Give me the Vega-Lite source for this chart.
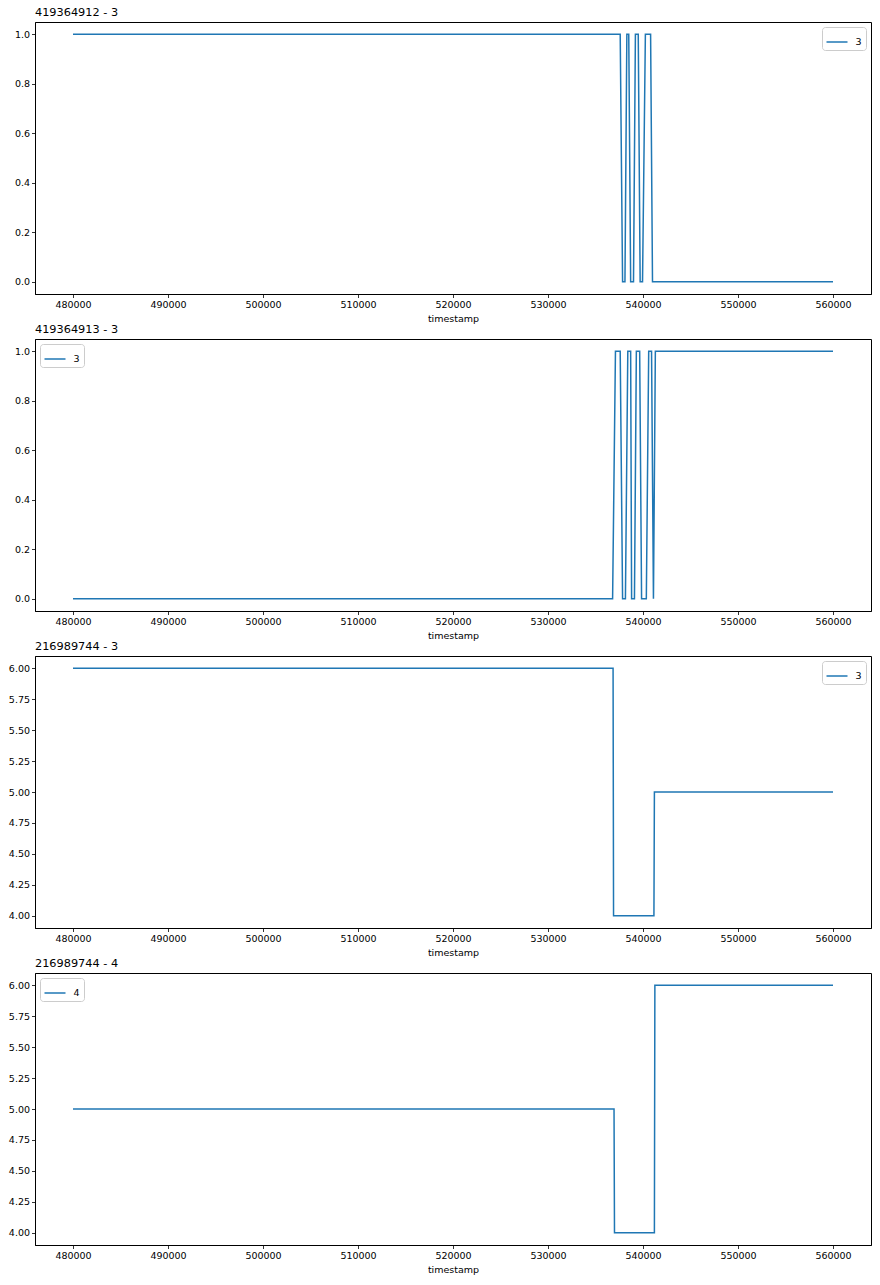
{
  "$schema": "https://vega.github.io/schema/vega-lite/v6.json",
  "background": "white",
  "padding": {"left": 7, "top": 6, "right": 4, "bottom": 6},
  "config": {
    "font": "DejaVu Sans",
    "view": {"stroke": "black", "strokeWidth": 1},
    "axis": {
      "labelFont": "DejaVu Sans", "labelFontSize": 9.5, "labelColor": "black",
      "titleFont": "DejaVu Sans", "titleFontSize": 9.5, "titleColor": "black", "titleFontWeight": "normal",
      "tickColor": "black", "tickSize": 3.5, "tickWidth": 0.8, "domainColor": "black", "domainWidth": 1,
      "grid": false, "labelPadding": 2
    },
    "title": {"font": "DejaVu Sans", "fontSize": 11.3, "fontWeight": "normal", "color": "black", "anchor": "start", "frame": "group", "offset": 4},
    "legend": {
      "title": null, "labelFont": "DejaVu Sans", "labelFontSize": 9.5, "labelColor": "black",
      "strokeColor": "#cccccc", "fillColor": "white", "cornerRadius": 3, "padding": 3.5,
      "symbolType": "stroke", "symbolSize": 441, "symbolStrokeWidth": 1.5, "labelOffset": 7, "offset": 5
    }
  },
  "data": {"values": [
    {"p": 1, "t": 480000, "v": 1, "s": "3"},
    {"p": 1, "t": 537600, "v": 1, "s": "3"},
    {"p": 1, "t": 537850, "v": 0, "s": "3"},
    {"p": 1, "t": 538100, "v": 0, "s": "3"},
    {"p": 1, "t": 538300, "v": 1, "s": "3"},
    {"p": 1, "t": 538500, "v": 1, "s": "3"},
    {"p": 1, "t": 538700, "v": 0, "s": "3"},
    {"p": 1, "t": 539000, "v": 0, "s": "3"},
    {"p": 1, "t": 539200, "v": 1, "s": "3"},
    {"p": 1, "t": 539500, "v": 1, "s": "3"},
    {"p": 1, "t": 539700, "v": 0, "s": "3"},
    {"p": 1, "t": 539950, "v": 0, "s": "3"},
    {"p": 1, "t": 540250, "v": 1, "s": "3"},
    {"p": 1, "t": 540800, "v": 1, "s": "3"},
    {"p": 1, "t": 541000, "v": 0, "s": "3"},
    {"p": 1, "t": 560000, "v": 0, "s": "3"},
    {"p": 2, "t": 480000, "v": 0, "s": "3"},
    {"p": 2, "t": 536800, "v": 0, "s": "3"},
    {"p": 2, "t": 537100, "v": 1, "s": "3"},
    {"p": 2, "t": 537600, "v": 1, "s": "3"},
    {"p": 2, "t": 537850, "v": 0, "s": "3"},
    {"p": 2, "t": 538150, "v": 0, "s": "3"},
    {"p": 2, "t": 538400, "v": 1, "s": "3"},
    {"p": 2, "t": 538700, "v": 1, "s": "3"},
    {"p": 2, "t": 538800, "v": 0, "s": "3"},
    {"p": 2, "t": 539100, "v": 0, "s": "3"},
    {"p": 2, "t": 539300, "v": 1, "s": "3"},
    {"p": 2, "t": 539650, "v": 1, "s": "3"},
    {"p": 2, "t": 539850, "v": 0, "s": "3"},
    {"p": 2, "t": 540350, "v": 0, "s": "3"},
    {"p": 2, "t": 540600, "v": 1, "s": "3"},
    {"p": 2, "t": 540900, "v": 1, "s": "3"},
    {"p": 2, "t": 541100, "v": 0, "s": "3"},
    {"p": 2, "t": 541300, "v": 1, "s": "3"},
    {"p": 2, "t": 560000, "v": 1, "s": "3"},
    {"p": 3, "t": 480000, "v": 6, "s": "3"},
    {"p": 3, "t": 536850, "v": 6, "s": "3"},
    {"p": 3, "t": 536900, "v": 4, "s": "3"},
    {"p": 3, "t": 541150, "v": 4, "s": "3"},
    {"p": 3, "t": 541200, "v": 5, "s": "3"},
    {"p": 3, "t": 560000, "v": 5, "s": "3"},
    {"p": 4, "t": 480000, "v": 5, "s": "4"},
    {"p": 4, "t": 536950, "v": 5, "s": "4"},
    {"p": 4, "t": 537000, "v": 4, "s": "4"},
    {"p": 4, "t": 541200, "v": 4, "s": "4"},
    {"p": 4, "t": 541250, "v": 6, "s": "4"},
    {"p": 4, "t": 560000, "v": 6, "s": "4"}
  ]},
  "bounds": "flush",
  "spacing": 45,
  "resolve": {"scale": {"color": "independent"}, "legend": {"color": "independent"}},
  "vconcat": [
    {
      "title": "419364912 - 3",
      "width": 836, "height": 272,
      "transform": [{"filter": "datum.p === 1"}],
      "mark": {"type": "line", "strokeWidth": 1.5},
      "encoding": {
        "x": {"field": "t", "type": "quantitative", "title": "timestamp", "scale": {"domain": [476000, 564000], "nice": false, "zero": false}, "axis": {"values": [480000, 490000, 500000, 510000, 520000, 530000, 540000, 550000, 560000], "format": "d"}},
        "y": {"field": "v", "type": "quantitative", "title": null, "scale": {"domain": [-0.05, 1.05], "nice": false, "zero": false}, "axis": {"values": [0, 0.2, 0.4, 0.6, 0.8, 1.0], "format": ".1f"}},
        "color": {"field": "s", "type": "nominal", "scale": {"range": ["#1f77b4"]}, "legend": {"orient": "top-right"}},
        "order": {"field": "t"}
      }
    },
    {
      "title": "419364913 - 3",
      "width": 836, "height": 272,
      "transform": [{"filter": "datum.p === 2"}],
      "mark": {"type": "line", "strokeWidth": 1.5},
      "encoding": {
        "x": {"field": "t", "type": "quantitative", "title": "timestamp", "scale": {"domain": [476000, 564000], "nice": false, "zero": false}, "axis": {"values": [480000, 490000, 500000, 510000, 520000, 530000, 540000, 550000, 560000], "format": "d"}},
        "y": {"field": "v", "type": "quantitative", "title": null, "scale": {"domain": [-0.05, 1.05], "nice": false, "zero": false}, "axis": {"values": [0, 0.2, 0.4, 0.6, 0.8, 1.0], "format": ".1f"}},
        "color": {"field": "s", "type": "nominal", "scale": {"range": ["#1f77b4"]}, "legend": {"orient": "top-left"}},
        "order": {"field": "t"}
      }
    },
    {
      "title": "216989744 - 3",
      "width": 836, "height": 272,
      "transform": [{"filter": "datum.p === 3"}],
      "mark": {"type": "line", "strokeWidth": 1.5},
      "encoding": {
        "x": {"field": "t", "type": "quantitative", "title": "timestamp", "scale": {"domain": [476000, 564000], "nice": false, "zero": false}, "axis": {"values": [480000, 490000, 500000, 510000, 520000, 530000, 540000, 550000, 560000], "format": "d"}},
        "y": {"field": "v", "type": "quantitative", "title": null, "scale": {"domain": [3.9, 6.1], "nice": false, "zero": false}, "axis": {"values": [4, 4.25, 4.5, 4.75, 5, 5.25, 5.5, 5.75, 6], "format": ".2f"}},
        "color": {"field": "s", "type": "nominal", "scale": {"range": ["#1f77b4"]}, "legend": {"orient": "top-right"}},
        "order": {"field": "t"}
      }
    },
    {
      "title": "216989744 - 4",
      "width": 836, "height": 272,
      "transform": [{"filter": "datum.p === 4"}],
      "mark": {"type": "line", "strokeWidth": 1.5},
      "encoding": {
        "x": {"field": "t", "type": "quantitative", "title": "timestamp", "scale": {"domain": [476000, 564000], "nice": false, "zero": false}, "axis": {"values": [480000, 490000, 500000, 510000, 520000, 530000, 540000, 550000, 560000], "format": "d"}},
        "y": {"field": "v", "type": "quantitative", "title": null, "scale": {"domain": [3.9, 6.1], "nice": false, "zero": false}, "axis": {"values": [4, 4.25, 4.5, 4.75, 5, 5.25, 5.5, 5.75, 6], "format": ".2f"}},
        "color": {"field": "s", "type": "nominal", "scale": {"range": ["#1f77b4"]}, "legend": {"orient": "top-left"}},
        "order": {"field": "t"}
      }
    }
  ]
}
